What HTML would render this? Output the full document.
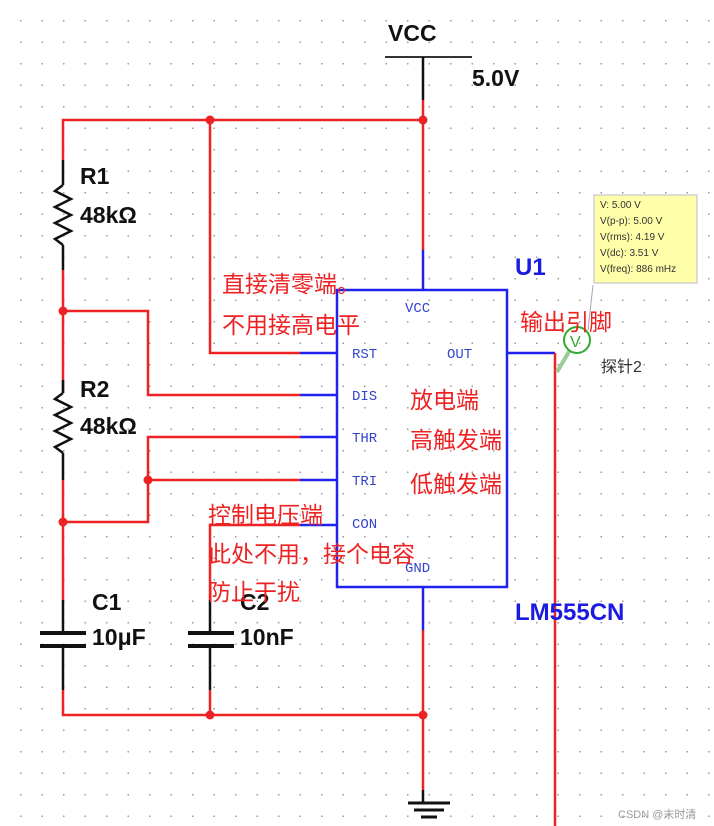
<!DOCTYPE html>
<html><head><meta charset="utf-8"><style>
html,body{margin:0;padding:0;background:#fff}
svg{display:block}
.cn{font-family:"Liberation Sans","Noto Sans CJK SC",sans-serif;fill:#ee2222;font-size:23px}
.b{font-family:"Liberation Sans",sans-serif;font-weight:bold;fill:#111;font-size:23px}
.pin{font-family:"Liberation Mono",monospace;fill:#3344cc;font-size:14px}
</style></head><body>
<svg width="714" height="826" viewBox="0 0 714 826" xmlns="http://www.w3.org/2000/svg">
<defs><pattern id="g" x="0" y="0" width="21.5" height="21.5" patternUnits="userSpaceOnUse"><rect x="20" y="20" width="1.5" height="1.5" fill="#999"/></pattern></defs>
<rect width="714" height="826" fill="url(#g)"/>
<g fill="none" stroke-width="2.5">
<line x1="385" y1="57" x2="472" y2="57" stroke="#333" stroke-width="2"/>
<line x1="423" y1="57" x2="423" y2="100" stroke="#111"/>
<line x1="423" y1="100" x2="423" y2="250" stroke="#e22"/>
<line x1="423" y1="250" x2="423" y2="290" stroke="#22e"/>
<polyline points="63,160 63,120 423,120" stroke="#e22"/>
<line x1="63" y1="160" x2="63" y2="185" stroke="#111"/>
<line x1="63" y1="245" x2="63" y2="270" stroke="#111"/>
<polyline points="63,185 55,191 71,199 55,207 71,215 55,223 71,231 55,239 63,245" stroke="#111" stroke-width="2.5"/>
<line x1="63" y1="270" x2="63" y2="393" stroke="#e22"/>
<line x1="63" y1="380" x2="63" y2="393" stroke="#111"/>
<line x1="63" y1="453" x2="63" y2="480" stroke="#111"/>
<polyline points="63,393 55,399 71,407 55,415 71,423 55,431 71,439 55,447 63,453" stroke="#111"/>
<line x1="63" y1="480" x2="63" y2="600" stroke="#e22"/>
<polyline points="210,120 210,353 300,353" stroke="#e22"/>
<line x1="300" y1="353" x2="337" y2="353" stroke="#22e"/>
<polyline points="63,311 148,311 148,395 300,395" stroke="#e22"/>
<line x1="300" y1="395" x2="337" y2="395" stroke="#22e"/>
<polyline points="63,522 148,522 148,437 300,437" stroke="#e22"/>
<line x1="300" y1="437" x2="337" y2="437" stroke="#22e"/>
<line x1="148" y1="480" x2="300" y2="480" stroke="#e22"/>
<line x1="300" y1="480" x2="337" y2="480" stroke="#22e"/>
<polyline points="210,600 210,525 300,525" stroke="#e22"/>
<line x1="300" y1="525" x2="337" y2="525" stroke="#22e"/>
<line x1="63" y1="600" x2="63" y2="632" stroke="#111"/>
<line x1="63" y1="647" x2="63" y2="690" stroke="#111"/>
<line x1="40" y1="633" x2="86" y2="633" stroke="#111" stroke-width="4"/>
<line x1="40" y1="646" x2="86" y2="646" stroke="#111" stroke-width="4"/>
<line x1="210" y1="600" x2="210" y2="632" stroke="#111"/>
<line x1="210" y1="647" x2="210" y2="690" stroke="#111"/>
<line x1="188" y1="633" x2="234" y2="633" stroke="#111" stroke-width="4"/>
<line x1="188" y1="646" x2="234" y2="646" stroke="#111" stroke-width="4"/>
<polyline points="63,690 63,715 423,715" stroke="#e22"/>
<line x1="210" y1="690" x2="210" y2="715" stroke="#e22"/>
<line x1="423" y1="587" x2="423" y2="630" stroke="#22e"/>
<line x1="423" y1="630" x2="423" y2="790" stroke="#e22"/>
<line x1="423" y1="790" x2="423" y2="803" stroke="#111"/>
<line x1="408" y1="803" x2="450" y2="803" stroke="#111" stroke-width="3"/>
<line x1="414" y1="810" x2="444" y2="810" stroke="#111" stroke-width="3"/>
<line x1="421" y1="817" x2="437" y2="817" stroke="#111" stroke-width="3"/>
<line x1="507" y1="353" x2="555" y2="353" stroke="#22e"/>
<line x1="555" y1="353" x2="555" y2="826" stroke="#e22"/>
<rect x="337" y="290" width="170" height="297" stroke="#22e"/>
<line x1="557" y1="372" x2="570" y2="350" stroke="#9c9" stroke-width="4"/>
<line x1="593" y1="285" x2="588" y2="330" stroke="#9ab" stroke-width="1"/>
<circle cx="577" cy="340" r="13" stroke="#3a3" stroke-width="2"/>
</g>
<text x="570" y="347" font-family="Liberation Sans" font-size="16" fill="#3a3">V</text>
<g fill="#e22">
<circle cx="210" cy="120" r="4.5"/><circle cx="423" cy="120" r="4.5"/>
<circle cx="63" cy="311" r="4.5"/><circle cx="63" cy="522" r="4.5"/><circle cx="148" cy="480" r="4.5"/>
<circle cx="210" cy="715" r="4.5"/><circle cx="423" cy="715" r="4.5"/>
</g>
<rect x="594" y="195" width="103" height="88" fill="#ffffaa" stroke="#bbc"/>
<g font-family="Liberation Sans" font-size="10" fill="#333">
<text x="600" y="208">V: 5.00 V</text><text x="600" y="224">V(p-p): 5.00 V</text>
<text x="600" y="240">V(rms): 4.19 V</text><text x="600" y="256">V(dc): 3.51 V</text>
<text x="600" y="272">V(freq): 886 mHz</text></g>
<text class="b" x="388" y="41" font-size="28">VCC</text>
<text class="b" x="472" y="86" font-size="24">5.0V</text>
<text class="b" x="80" y="184">R1</text><text class="b" x="80" y="223">48kΩ</text>
<text class="b" x="80" y="397">R2</text><text class="b" x="80" y="434">48kΩ</text>
<text class="b" x="92" y="610">C1</text><text class="b" x="92" y="645">10μF</text>
<text class="b" x="240" y="610">C2</text><text class="b" x="240" y="645">10nF</text>
<text x="515" y="275" font-family="Liberation Sans" font-weight="bold" font-size="24" fill="#1a1ae0">U1</text>
<text x="515" y="620" font-family="Liberation Sans" font-weight="bold" font-size="24" fill="#1a1ae0">LM555CN</text>
<text class="pin" x="405" y="312">VCC</text>
<text class="pin" x="352" y="358">RST</text><text class="pin" x="447" y="358">OUT</text>
<text class="pin" x="352" y="400">DIS</text><text class="pin" x="352" y="442">THR</text>
<text class="pin" x="352" y="485">TRI</text><text class="pin" x="352" y="528">CON</text>
<text class="pin" x="405" y="572">GND</text>
<text x="601" y="372" font-family="Liberation Sans,Noto Sans CJK SC,sans-serif" font-size="16" fill="#333">探针2</text>
<text class="cn" x="222" y="292">直接清零端。</text>
<text class="cn" x="222" y="333">不用接高电平</text>
<text class="cn" x="520" y="330">输出引脚</text>
<text class="cn" x="410" y="408">放电端</text>
<text class="cn" x="410" y="448">高触发端</text>
<text class="cn" x="410" y="492">低触发端</text>
<text class="cn" x="208" y="523">控制电压端</text>
<text class="cn" x="208" y="562">此处不用，接个电容</text>
<text class="cn" x="208" y="600">防止干扰</text>
<text x="618" y="818" font-family="Liberation Sans,Noto Sans CJK SC,sans-serif" font-size="11" fill="#999">CSDN @末时清</text>
</svg>
</body></html>
